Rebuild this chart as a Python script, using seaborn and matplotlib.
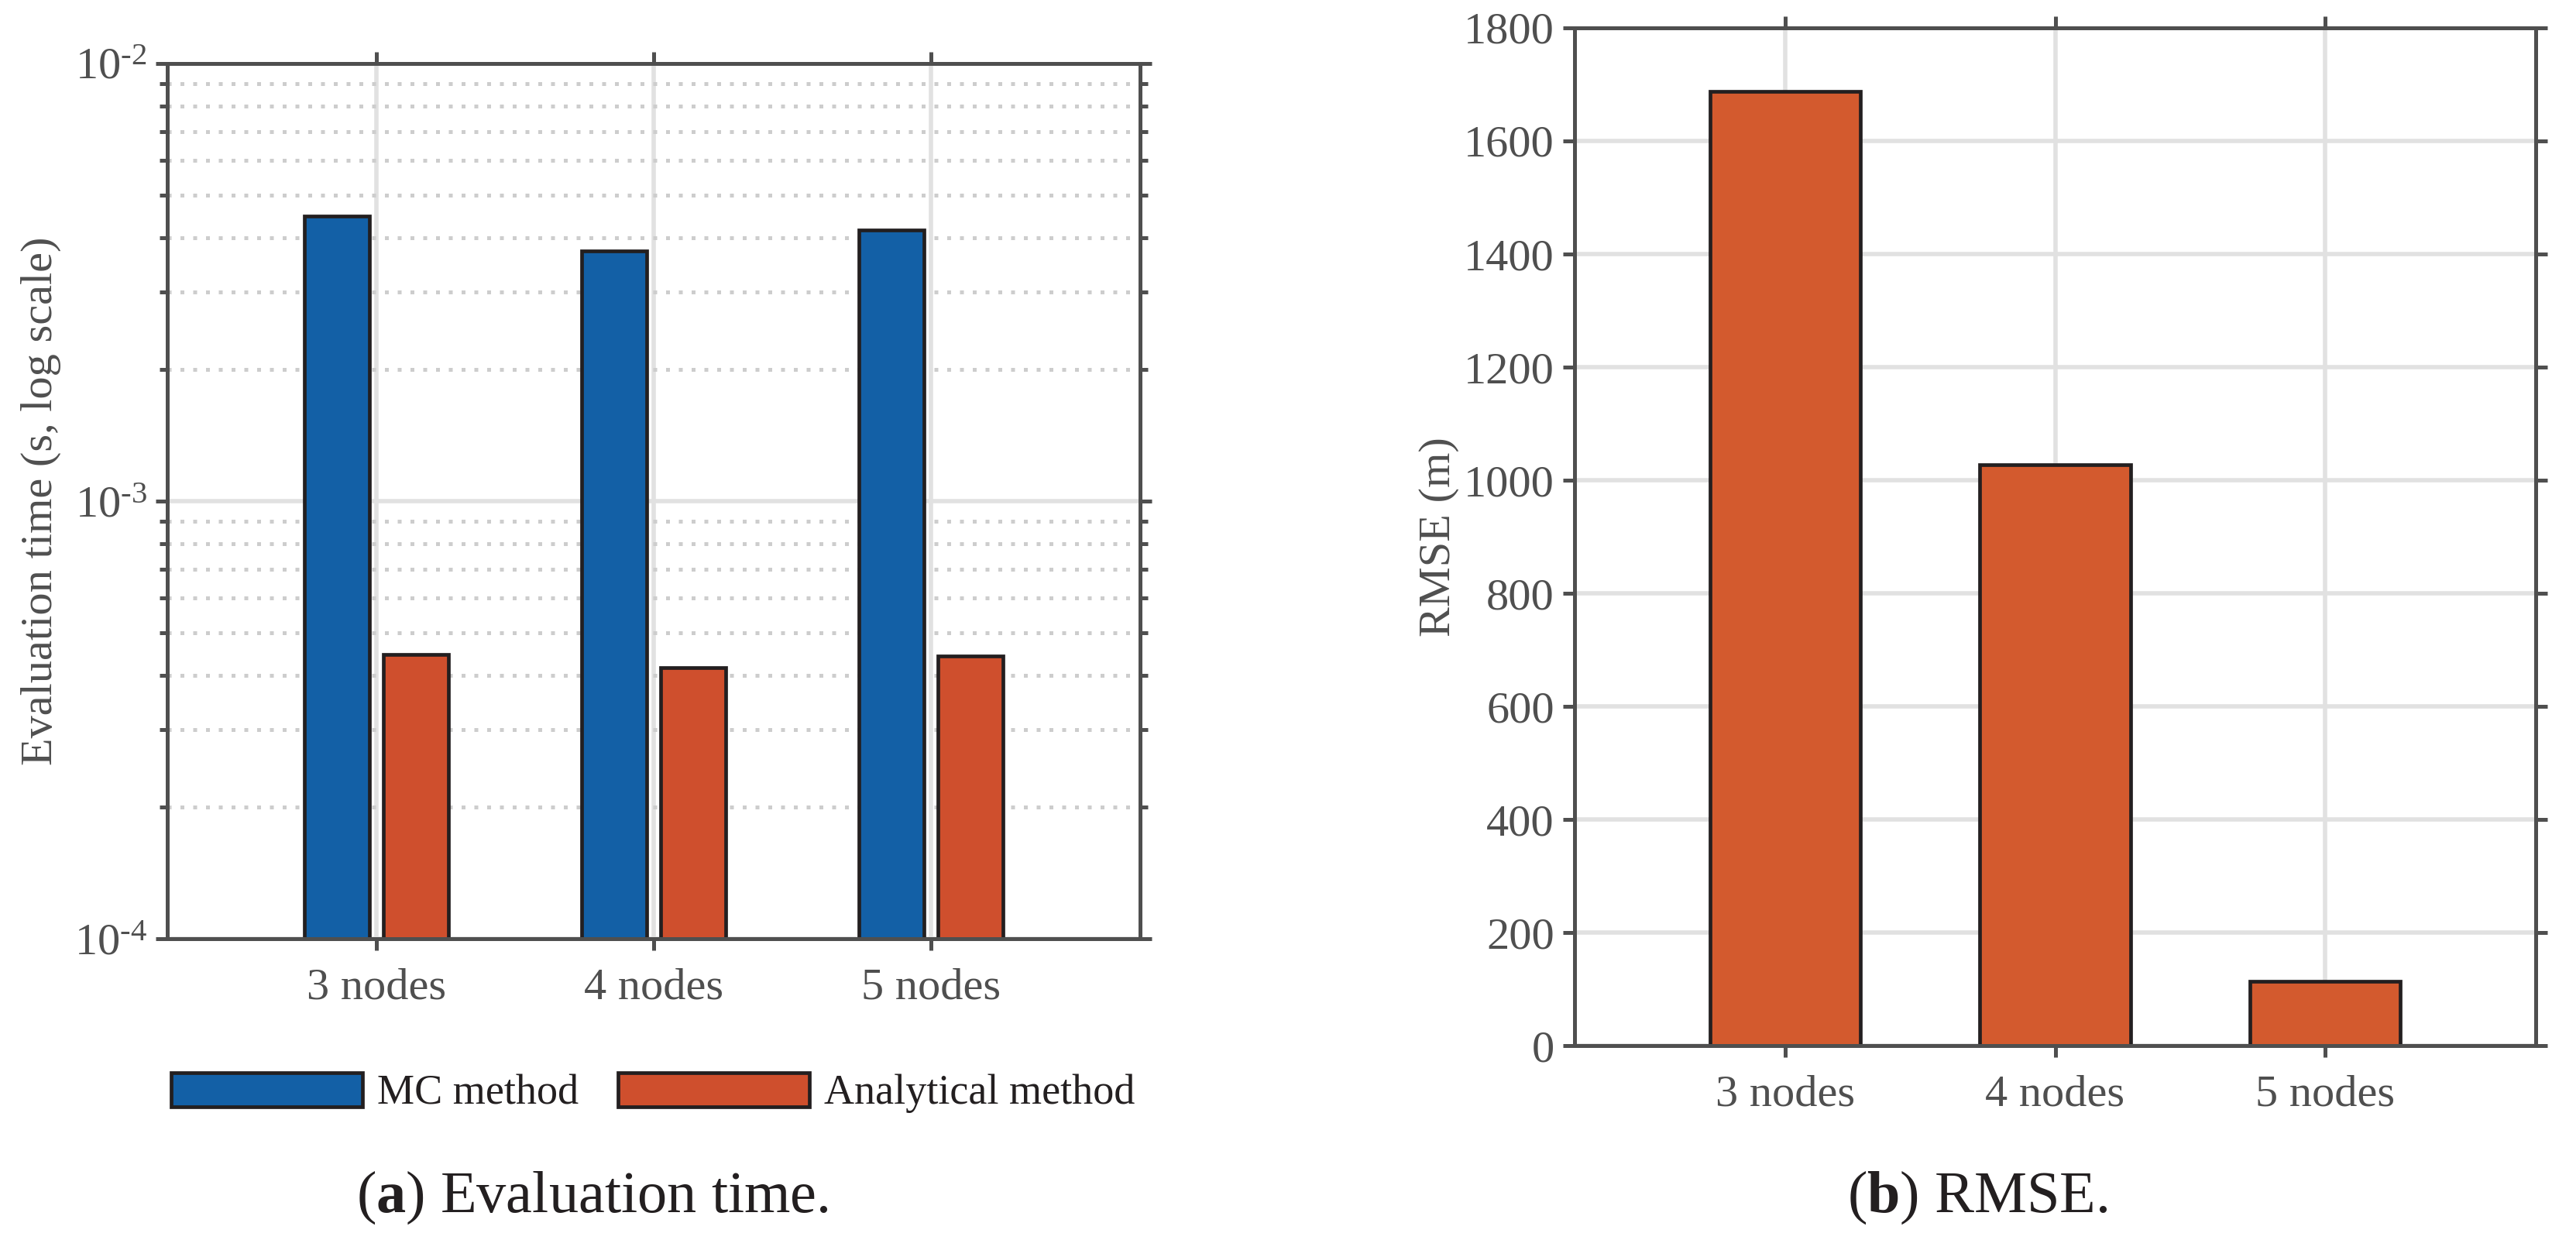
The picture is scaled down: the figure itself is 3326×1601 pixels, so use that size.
import numpy as np
import pandas as pd
import matplotlib
matplotlib.use("Agg")
import matplotlib.pyplot as plt
import seaborn as sns
from matplotlib.ticker import FixedLocator, FixedFormatter, NullFormatter, LogLocator, MultipleLocator

# data
configs = ["3 nodes", "4 nodes", "5 nodes"]
methods = ["MC method", "Analytical method"]
mc_time = [4.48e-3, 3.73e-3, 4.16e-3]
analytical_time = [4.47e-4, 4.16e-4, 4.42e-4]
rmse = [1687, 1028, 114]

BLUE = "#1360a6"
RED = "#cf4f2d"
RED2 = "#d35a2e"
EDGE = "#231f20"
AX = "#4f4f4f"
GRID = "#e1e1e1"
MINOR = "#cdcdcd"
SERIF = ["Liberation Serif", "DejaVu Serif"]

sns.set_theme(style="white")
plt.rcParams["font.family"] = SERIF
plt.rcParams["mathtext.fontset"] = "custom"
plt.rcParams["mathtext.rm"] = "Liberation Serif"
plt.rcParams["mathtext.it"] = "Liberation Serif:italic"
plt.rcParams["mathtext.bf"] = "Liberation Serif:bold"

W, H = 3326, 1601
fig = plt.figure(figsize=(W / 200, H / 200), dpi=200)


def box(l, t, r, b):
    return [l / W, 1 - b / H, (r - l) / W, (b - t) / H]


ax1 = fig.add_axes(box(216, 82, 1472, 1212))
ax2 = fig.add_axes(box(2033, 36, 3274, 1350))

df = pd.DataFrame({
    "config": configs * 2,
    "method": [methods[0]] * 3 + [methods[1]] * 3,
    "time": mc_time + analytical_time,
})

# (a) evaluation time, grouped bars on log axis
sns.barplot(data=df, x="config", y="time", hue="method", hue_order=methods,
            palette=[BLUE, RED], saturation=1, width=0.565, gap=0.17,
            edgecolor=EDGE, linewidth=1.7, legend=False, ax=ax1)
ax1.set_yscale("log")
ax1.set_ylim(1e-4, 1e-2)
ax1.set_xlim(-0.754, 2.754)
ax1.yaxis.set_major_locator(FixedLocator([1e-4, 1e-3, 1e-2]))
ax1.yaxis.set_major_formatter(FixedFormatter([r"$10^{\text{-}4}$", r"$10^{\text{-}3}$", r"$10^{\text{-}2}$"]))
ax1.yaxis.set_minor_locator(LogLocator(base=10, subs=np.arange(2, 10)))
ax1.yaxis.set_minor_formatter(NullFormatter())
ax1.set_ylabel("Evaluation time (s, log scale)", fontsize=21, color=AX,
               labelpad=6, fontfamily=SERIF)
ax1.set_xlabel("")

# (b) RMSE
sns.barplot(x=configs, y=rmse, color=RED2, saturation=1, width=0.557,
            edgecolor=EDGE, linewidth=1.7, ax=ax2)
ax2.set_ylim(0, 1800)
ax2.set_xlim(-0.78, 2.78)
ax2.yaxis.set_major_locator(MultipleLocator(200))
ax2.set_ylabel("RMSE (m)", fontsize=21, color=AX, labelpad=2, fontfamily=SERIF)

for ax in (ax1, ax2):
    ax.set_axisbelow(True)
    ax.grid(True, which="major", color=GRID, linewidth=2.0, linestyle="-")
    for s in ax.spines.values():
        s.set_visible(True)
        s.set_color(AX)
        s.set_linewidth(1.8)
    ax.tick_params(which="major", direction="out", length=5.4, width=1.8,
                   color=AX, labelcolor=AX, labelsize=21, top=True, right=True,
                   bottom=True, left=True, pad=4, labelfontfamily=SERIF)
    ax.tick_params(axis="x", which="major", pad=8)

ax1.grid(True, which="minor", axis="y", color=MINOR, linewidth=1.8,
         linestyle=(0, (1, 2.3)))
ax1.tick_params(which="minor", direction="out", length=3.6, width=1.8,
                color=AX, left=True, right=True)

fig.legend(handles=ax1.containers, labels=methods, loc="center",
           bbox_to_anchor=(843 / W, 1 - 1411 / H), ncol=2, frameon=False,
           handlelength=4.55, handleheight=0.88,
           handletextpad=0.35, columnspacing=0.95, labelcolor=EDGE,
           prop={"family": SERIF, "size": 19.5})

fig.text(765 / W, 1 - 1546 / H, r"($\mathbf{a}$) Evaluation time.",
         ha="center", va="center", fontsize=27.5, color=EDGE, fontfamily=SERIF)
fig.text(2553 / W, 1 - 1546 / H, r"($\mathbf{b}$) RMSE.",
         ha="center", va="center", fontsize=27.5, color=EDGE, fontfamily=SERIF)

fig.savefig("out.png", dpi=200, facecolor="white")
